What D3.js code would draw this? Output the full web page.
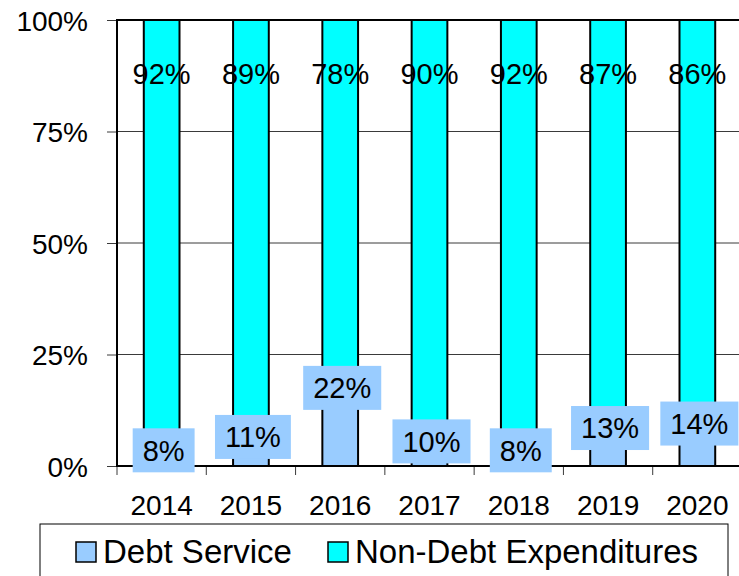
<!DOCTYPE html>
<html>
<head>
<meta charset="utf-8">
<script src="https://cdn.jsdelivr.net/npm/d3@7"></script>
<style>
  html, body { margin: 0; padding: 0; background: #fff; }
  svg { display: block; }
  text { font-family: "Liberation Sans", Arial, sans-serif; fill: #000; }
</style>
</head>
<body>
<svg id="chart" width="739" height="576"></svg>
<script>
// Share of spending per year
const years = ["2014", "2015", "2016", "2017", "2018", "2019", "2020"];
const debtService = [0.08, 0.11, 0.22, 0.10, 0.08, 0.13, 0.14];
const nonDebt = [0.92, 0.89, 0.78, 0.90, 0.92, 0.87, 0.86];
const yTicks = [0, 0.25, 0.5, 0.75, 1];
const seriesNames = ["Debt Service", "Non-Debt Expenditures"];
const seriesColors = ["#99CCFF", "#00FFFF"];

const svg = d3.select("#chart");
const plotLeft = 117, plotTop = 20, plotBottom = 466, plotRight = 742;

const x = d3.scaleBand().domain(years).range([plotLeft, plotRight])
  .paddingInner(0.6).paddingOuter(0.3);
const y = d3.scaleLinear().domain([0, 1]).range([plotBottom, plotTop]);

// gridlines
svg.append("g").selectAll("line").data(yTicks.slice(1, -1)).join("line")
  .attr("x1", plotLeft).attr("x2", plotRight)
  .attr("y1", d => y(d)).attr("y2", d => y(d))
  .attr("stroke", "#3a3a3a").attr("stroke-width", 1);

// y axis ticks and labels
const yAxis = svg.append("g").attr("transform", `translate(${plotLeft},0)`)
  .call(d3.axisLeft(y).tickValues(yTicks).tickFormat(d3.format(".0%"))
    .tickSize(10).tickPadding(19));
yAxis.select(".domain").remove();
yAxis.selectAll(".tick line").attr("stroke", "#3a3a3a").attr("stroke-width", 1);
yAxis.selectAll("text").attr("font-size", 28)
  .attr("font-family", '"Liberation Sans", Arial, sans-serif').attr("dy", "0.36em");

// x axis ticks at category boundaries
const boundaries = years.map((d, i) => plotLeft + i * x.step());
svg.append("g").selectAll("line").data(boundaries).join("line")
  .attr("x1", d => d).attr("x2", d => d)
  .attr("y1", plotBottom).attr("y2", plotBottom + 9)
  .attr("stroke", "#3a3a3a").attr("stroke-width", 1);

svg.append("g").selectAll("text").data(years).join("text")
  .attr("x", d => x(d) + x.bandwidth() / 2)
  .attr("y", 515)
  .attr("text-anchor", "middle")
  .attr("font-size", 28)
  .text(d => d);

// stacked bars
const rows = years.map((yr, i) => ({ year: yr, debt: debtService[i], other: nonDebt[i] }));
const barG = svg.append("g");
barG.selectAll("rect.other").data(rows).join("rect")
  .attr("class", "other")
  .attr("x", d => x(d.year)).attr("width", x.bandwidth())
  .attr("y", d => y(d.debt + d.other)).attr("height", d => y(d.debt) - y(d.debt + d.other))
  .attr("fill", seriesColors[1]).attr("stroke", "#000").attr("stroke-width", 2);
barG.selectAll("rect.debt").data(rows).join("rect")
  .attr("class", "debt")
  .attr("x", d => x(d.year)).attr("width", x.bandwidth())
  .attr("y", d => y(d.debt)).attr("height", d => y(0) - y(d.debt))
  .attr("fill", seriesColors[0]).attr("stroke", "#000").attr("stroke-width", 2);

// plot frame: left, top and bottom edges
svg.append("path")
  .attr("d", `M${plotRight},${plotTop}H${plotLeft}V${plotBottom}H${plotRight}`)
  .attr("fill", "none").attr("stroke", "#000").attr("stroke-width", 2);

// non-debt labels near the top of each bar
svg.append("g").selectAll("text").data(rows).join("text")
  .attr("x", d => x(d.year) + x.bandwidth() / 2)
  .attr("y", d => y(d.debt + d.other) + 64)
  .attr("text-anchor", "middle")
  .attr("font-size", 29)
  .text(d => d3.format(".0%")(d.other));

// debt labels in shaded boxes
const lab = svg.append("g").selectAll("g").data(rows).join("g")
  .attr("transform", d => `translate(${x(d.year) + x.bandwidth() / 2 + 2},${y(d.debt) + 20})`);
lab.append("text")
  .attr("text-anchor", "middle")
  .attr("dy", "0.36em")
  .attr("font-size", 29)
  .text(d => d3.format(".0%")(d.debt));
lab.each(function () {
  const g = d3.select(this);
  const bb = g.select("text").node().getBBox();
  g.insert("rect", "text")
    .attr("x", bb.x - 10).attr("width", bb.width + 20)
    .attr("y", -22).attr("height", 44)
    .attr("fill", seriesColors[0]);
});

// legend
const legend = svg.append("g");
legend.append("rect")
  .attr("x", 40).attr("y", 524).attr("width", 688).attr("height", 70)
  .attr("fill", "#fff").attr("stroke", "#000").attr("stroke-width", 1);
const legendX = [76, 328];
const items = legend.selectAll("g").data(seriesNames).join("g")
  .attr("transform", (d, i) => `translate(${legendX[i]},542)`);
items.append("rect")
  .attr("width", 20).attr("height", 20)
  .attr("fill", (d, i) => seriesColors[i]).attr("stroke", "#000").attr("stroke-width", 1.5);
items.append("text")
  .attr("x", 27).attr("y", 21)
  .attr("font-size", 33)
  .text(d => d);
</script>
</body>
</html>
